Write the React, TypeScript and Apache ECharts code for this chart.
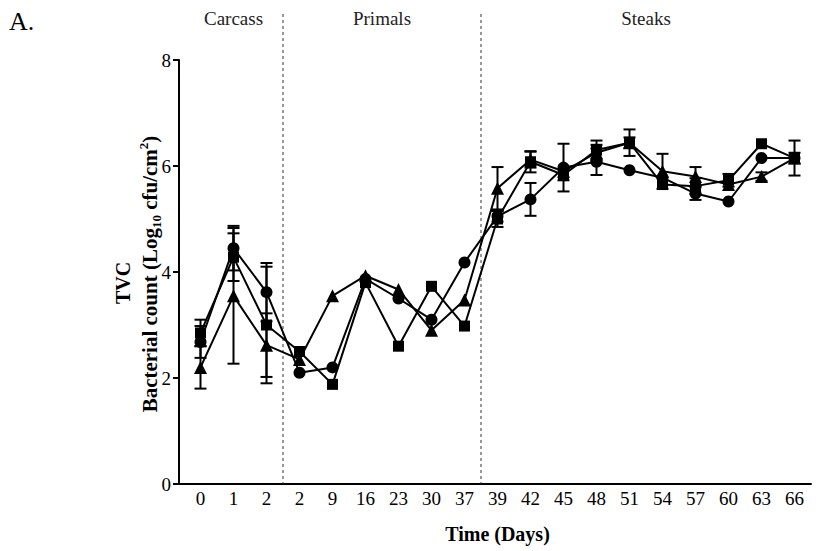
import React, { useEffect, useRef } from 'react';
import * as echarts from 'echarts';

const days = ['0', '1', '2', '2', '9', '16', '23', '30', '37', '39', '42', '45', '48', '51', '54', '57', '60', '63', '66'];

const circleVals = [2.68, 4.45, 3.62, 2.1, 2.2, 3.87, 3.5, 3.1, 4.18, 5.05, 5.37, 5.97, 6.08, 5.92, 5.78, 5.48, 5.33, 6.15, 6.15];
const circleErr = [0.3, 0.42, 0.55, 0, 0, 0, 0, 0, 0, 0.1, 0.31, 0.45, 0.25, 0, 0, 0.12, 0, 0, 0];

const squareVals = [2.85, 4.28, 3.0, 2.5, 1.88, 3.8, 2.6, 3.73, 2.98, 5.0, 6.08, 5.83, 6.3, 6.44, 5.65, 5.62, 5.73, 6.42, 6.15];
const squareErr = [0.25, 0.45, 1.1, 0, 0, 0, 0, 0, 0, 0.15, 0.2, 0.1, 0.18, 0.25, 0, 0.15, 0.12, 0, 0.1];

const triangleVals = [2.2, 3.55, 2.62, 2.35, 3.55, 3.93, 3.67, 2.9, 3.47, 5.58, 6.12, 5.9, 6.25, 6.44, 5.9, 5.8, 5.65, 5.8, 6.15];
const triangleErr = [0.4, 1.28, 0.6, 0, 0, 0, 0, 0, 0, 0.4, 0.15, 0, 0.15, 0.1, 0.33, 0.18, 0, 0.08, 0.33];

const sectionNames = ['Carcass', 'Primals', 'Steaks'];
const sectionStart = [0, 3, 9];
const sectionEnd = [2, 8, 18];

const yMin = 0;
const yMax = 8;
const yInterval = 2;

const FONT = '"Liberation Serif", "Times New Roman", serif';

function errData(vals: number[], errs: number[]) {
  return vals.map((v, i) => [i, v, errs[i]]).filter((d) => d[2] > 0);
}

const errRender = (params: any, api: any) => {
  const x = api.value(0);
  const v = api.value(1);
  const e = api.value(2);
  const top = api.coord([x, v + e]);
  const bot = api.coord([x, v - e]);
  const hw = 6;
  const st = { stroke: '#000', lineWidth: 2 };
  return {
    type: 'group',
    children: [
      { type: 'line', shape: { x1: top[0], y1: top[1], x2: bot[0], y2: bot[1] }, style: st },
      { type: 'line', shape: { x1: top[0] - hw, y1: top[1], x2: top[0] + hw, y2: top[1] }, style: st },
      { type: 'line', shape: { x1: bot[0] - hw, y1: bot[1], x2: bot[0] + hw, y2: bot[1] }, style: st },
    ],
  };
};

const sectionRender = (params: any, api: any) => {
  const s = api.value(0);
  const e = api.value(2);
  const idx = api.value(3);
  const ps = api.coord([s, yMax]);
  const pe = api.coord([e, yMax]);
  const p0 = api.coord([e, yMin]);
  const children: any[] = [
    {
      type: 'text',
      x: (ps[0] + pe[0]) / 2,
      y: ps[1] - 42,
      style: {
        text: sectionNames[idx],
        font: `19px ${FONT}`,
        fill: '#222',
        align: 'center',
        verticalAlign: 'middle',
        textAlign: 'center',
        textVerticalAlign: 'middle',
      },
    },
  ];
  if (idx < sectionNames.length - 1) {
    const pn = api.coord([e + 1, yMin]);
    const dx = (p0[0] + pn[0]) / 2;
    children.push({
      type: 'line',
      shape: { x1: dx, y1: ps[1] - 46, x2: dx, y2: p0[1] },
      style: { stroke: '#333', lineWidth: 1, lineDash: [3, 3] },
    });
  }
  return { type: 'group', children };
};

export default function App() {
  const ref = useRef<HTMLDivElement>(null);
  useEffect(() => {
    if (!ref.current) return;
    const chart = echarts.init(ref.current, null, { renderer: 'svg' });
    const lineBase = (name: string, data: number[], symbol: string, size: number) => ({
      name,
      type: 'line',
      data,
      symbol,
      symbolSize: size,
      itemStyle: { color: '#000' },
      lineStyle: { color: '#000', width: 2 },
      z: 5,
    });
    const errSeries = (data: any[]) => ({
      type: 'custom',
      data,
      encode: { x: 0, y: 1 },
      renderItem: errRender,
      z: 4,
    });
    chart.setOption({
      animation: false,
      backgroundColor: '#fff',
      grid: { left: 184, right: 5, top: 60, bottom: 67 },
      xAxis: {
        type: 'category',
        data: days,
        boundaryGap: true,
        axisLine: { lineStyle: { color: '#000', width: 2 } },
        axisTick: { inside: true, length: 6, alignWithLabel: true, interval: 0, lineStyle: { color: '#000', width: 2 } },
        axisLabel: { interval: 0, color: '#000', fontSize: 19, fontFamily: FONT, margin: 5 },
        name: 'Time (Days)',
        nameLocation: 'middle',
        nameGap: 40,
        nameTextStyle: { color: '#000', fontSize: 20, fontWeight: 'bold', fontFamily: FONT },
        splitLine: { show: false },
      },
      yAxis: {
        type: 'value',
        min: yMin,
        max: yMax,
        interval: yInterval,
        offset: 5,
        axisLine: { show: true, lineStyle: { color: '#000', width: 2 } },
        axisTick: { show: true, length: 6, lineStyle: { color: '#000', width: 2 } },
        axisLabel: { color: '#000', fontSize: 19, fontFamily: FONT, margin: 8 },
        splitLine: { show: false },
      },
      graphic: [
        { type: 'line', shape: { x1: 178, y1: 484, x2: 186, y2: 484 }, style: { stroke: '#000', lineWidth: 2 } },
        {
          type: 'text', x: 9, y: 21,
          style: { text: 'A.', font: `26px ${FONT}`, fill: '#000', align: 'left', verticalAlign: 'middle' },
        },
        {
          type: 'text', x: 123, y: 283, rotation: Math.PI / 2,
          style: { text: 'TVC', font: `bold 20px ${FONT}`, fill: '#000', align: 'center', verticalAlign: 'middle' },
        },
        {
          type: 'text', x: 150, y: 274, rotation: Math.PI / 2,
          style: {
            text: '{a|Bacterial count (Log}{s|10}{a| cfu/cm}{p|2}{a|)}',
            align: 'center',
            verticalAlign: 'middle',
            rich: {
              a: { fontFamily: FONT, fontSize: 21, fontWeight: 'bold', color: '#000', lineHeight: 26 },
              s: { fontFamily: FONT, fontSize: 13, fontWeight: 'bold', color: '#000', lineHeight: 12, verticalAlign: 'bottom' },
              p: { fontFamily: FONT, fontSize: 13, fontWeight: 'bold', color: '#000', lineHeight: 12, verticalAlign: 'top' },
            },
          },
        },
      ],
      series: [
        {
          type: 'custom',
          data: sectionStart.map((s, i) => [s, yMin, sectionEnd[i], i]),
          encode: { x: 0, y: 1 },
          renderItem: sectionRender,
          clip: false,
          silent: true,
          z: 1,
        },
        errSeries(errData(circleVals, circleErr)),
        errSeries(errData(squareVals, squareErr)),
        errSeries(errData(triangleVals, triangleErr)),
        lineBase('circle', circleVals, 'circle', 12),
        lineBase('square', squareVals, 'rect', 11),
        lineBase('triangle', triangleVals, 'triangle', 13),
      ],
    });
    return () => chart.dispose();
  }, []);
  return (
    <div
      ref={ref}
      style={{ position: 'absolute', left: 0, top: 0, width: 816, height: 551, background: '#fff' }}
    />
  );
}
